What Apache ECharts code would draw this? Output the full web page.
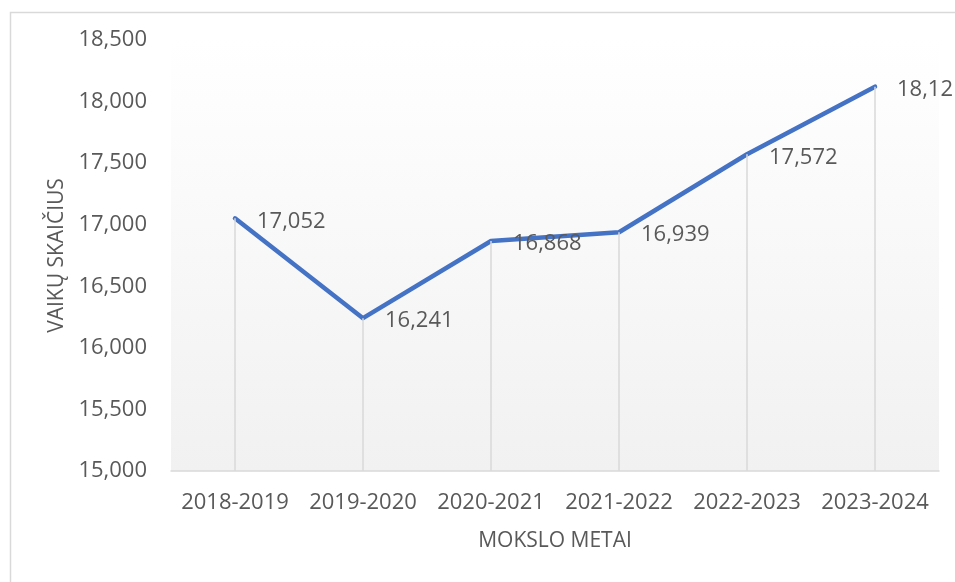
<!DOCTYPE html>
<html>
<head>
<meta charset="utf-8">
<script src="https://cdn.jsdelivr.net/npm/echarts@6/dist/echarts.min.js"></script>
<style>
html,body{margin:0;padding:0;background:#fff;}
#chart{width:955px;height:582px;}
</style>
</head>
<body>
<div id="chart"></div>
<script>
const categories = ['2018-2019','2019-2020','2020-2021','2021-2022','2022-2023','2023-2024'];
const values = [17052, 16241, 16868, 16939, 17572, 18121];
const yMin = 15000, yMax = 18500, yStep = 500;
const yTitle = 'VAIKŲ SKAIČIUS';
const xTitle = 'MOKSLO METAI';

const fmt = v => v.toLocaleString('en-US');
const FONT = '"Open Sans", "Noto Sans", sans-serif';
const chart = echarts.init(document.getElementById('chart'), null, {renderer:'canvas'});
chart.setOption({
  animation: false,
  backgroundColor: '#ffffff',
  graphic: [{
    type: 'rect', left: 8, top: 10, z: -10,
    shape: {width: 1000, height: 620},
    style: {fill: 'none', stroke: '#d9d9d9', lineWidth: 1.5}
  }],
  grid: {
    left: 171, right: 16, top: 40, bottom: 111,
    show: true, borderWidth: 0,
    backgroundColor: new echarts.graphic.LinearGradient(0,0,0,1,[{offset:0,color:'#ffffff'},{offset:1,color:'#f1f1f1'}])
  },
  xAxis: {
    type: 'category',
    data: categories,
    boundaryGap: true,
    axisTick: {show: false},
    axisLine: {lineStyle: {color: '#d9d9d9', width: 1.5}},
    axisLabel: {color: '#595959', fontSize: 22, fontFamily: FONT, margin: 21, interval: 0},
    name: xTitle, nameLocation: 'middle', nameGap: 60,
    nameTextStyle: {color: '#595959', fontSize: 21, fontFamily: FONT}
  },
  yAxis: {
    type: 'value', min: yMin, max: yMax, interval: yStep,
    axisLine: {show: false}, axisTick: {show: false}, splitLine: {show: false},
    axisLabel: {color: '#595959', fontSize: 22, fontFamily: FONT, margin: 24, formatter: v => fmt(v)},
    name: yTitle, nameLocation: 'middle', nameGap: 101,
    nameTextStyle: {color: '#595959', fontSize: 21, fontFamily: FONT}
  },
  series: [
    {
      type: 'line', data: [], z: 1, silent: true,
      markLine: {
        silent: true, symbol: 'none', animation: false,
        label: {show: false},
        lineStyle: {color: '#d9d9d9', width: 1.5, type: 'solid'},
        data: values.map((v, i) => [{coord: [i, yMin]}, {coord: [i, v]}])
      }
    },
    {
      type: 'line', data: values, z: 3,
      showSymbol: true, symbol: 'circle', symbolSize: 2,
      itemStyle: {color: '#4472C4'},
      lineStyle: {color: '#4472C4', width: 4.5, cap: 'round', join: 'round'},
      label: {
        show: true, position: 'right', distance: 21, offset: [0, 3],
        color: '#595959', fontSize: 22, fontFamily: FONT,
        formatter: p => fmt(p.value)
      }
    }
  ]
});
</script>
</body>
</html>
